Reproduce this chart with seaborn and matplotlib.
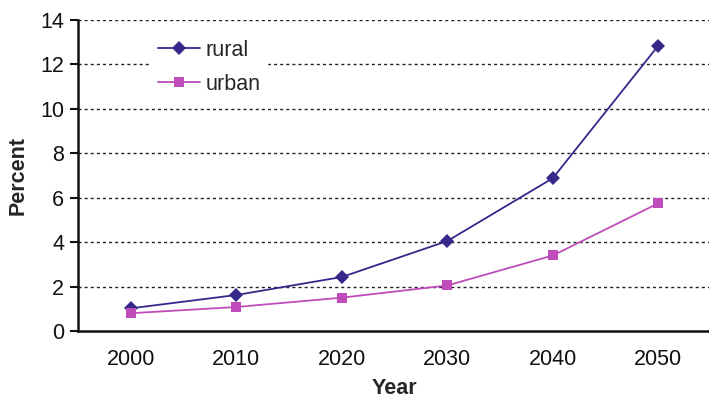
import matplotlib
matplotlib.use("Agg")
import matplotlib.pyplot as plt
from matplotlib.ticker import FixedLocator, NullFormatter
import seaborn as sns
import pandas as pd

years = [2000, 2010, 2020, 2030, 2040, 2050]
rural = [1.02, 1.62, 2.43, 4.05, 6.88, 12.85]
urban = [0.80, 1.08, 1.50, 2.05, 3.40, 5.75]
series_names = ["rural", "urban"]
y_ticks = [0, 2, 4, 6, 8, 10, 12, 14]

df = pd.DataFrame({
    "Year": years * 2,
    "Percent": rural + urban,
    "series": [series_names[0]] * len(years) + [series_names[1]] * len(years),
})

sns.set_theme(style="white")
plt.rcParams["font.family"] = ["Liberation Sans", "DejaVu Sans"]

FS = 15.5

fig = plt.figure(figsize=(7.09, 4.0), dpi=100)
ax = fig.add_axes([0.110, 0.1725, 0.893, 0.7775])

palette = {"rural": "#35288a", "urban": "#c04cbc"}
sns.lineplot(data=df, x="Year", y="Percent", hue="series", style="series",
             markers={"rural": "D", "urban": "s"}, dashes=False,
             palette=palette, linewidth=1.3, markersize=7,
             markeredgewidth=0, ax=ax)

ax.set_xlim(1995, 2055)
ax.set_ylim(0, 14)
ax.set_yticks(y_ticks)
ax.set_xticks(years)
ax.xaxis.set_minor_locator(FixedLocator([1995 + 10 * i for i in range(7)]))
ax.xaxis.set_minor_formatter(NullFormatter())
ax.tick_params(axis="x", which="major", length=0, pad=13, labelsize=FS, colors="#111111")
ax.tick_params(axis="x", which="minor", length=6, width=1.5, direction="out", color="#111111")
ax.tick_params(axis="y", which="major", length=6, width=1.5, direction="out",
               labelsize=FS, pad=4, colors="#111111")
ax.tick_params(left=True, bottom=True)

for y in y_ticks[1:]:
    ax.axhline(y, color="#222222", linestyle=(0, (2.2, 2.2)), linewidth=1.0, zorder=0)

for side in ["top", "right"]:
    ax.spines[side].set_visible(False)
for side in ["left", "bottom"]:
    ax.spines[side].set_color("#111111")
    ax.spines[side].set_linewidth(1.8)

ax.set_xlabel("Year", fontsize=FS, fontweight="bold", labelpad=6)
ax.set_ylabel("Percent", fontsize=FS, fontweight="bold", labelpad=8)

handles, labels = ax.get_legend_handles_labels()
leg = ax.legend(handles, labels, loc="upper left", bbox_to_anchor=(0.099, 0.991),
                frameon=True, fontsize=FS, handlelength=1.95, handletextpad=0.25,
                labelspacing=0.6, borderpad=0.3, framealpha=1.0, fancybox=False)
leg.get_frame().set_edgecolor("white")
leg.get_frame().set_facecolor("white")

fig.savefig("out.png", dpi=100, facecolor="white")
